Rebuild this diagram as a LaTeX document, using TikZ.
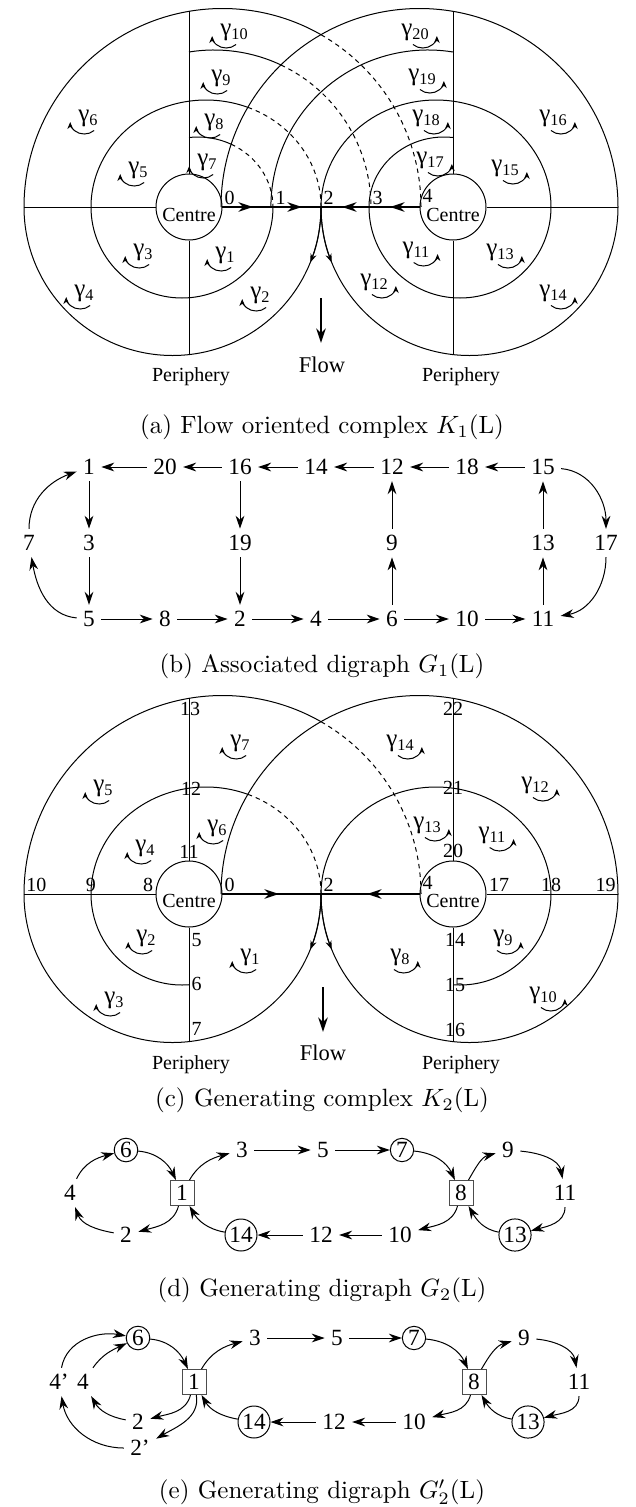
\documentclass[tikz,border=0pt]{standalone}
\usepackage{fontspec}
\usetikzlibrary{arrows.meta}
\newfontfamily\figfont{Liberation Serif}
\tikzset{
  num/.style={font=\figfont\fontsize{9.3}{10}\selectfont, inner sep=2.4pt},
  ptlab/.style={font=\figfont\fontsize{8}{9}\selectfont, inner sep=0.8pt},
  gam/.style={font=\figfont\fontsize{10}{11}\selectfont, inner sep=0pt},
  ctr/.style={circle, draw, minimum size=26.4pt, inner sep=0pt},
  ctrtext/.style={font=\figfont\fontsize{8}{9}\selectfont, inner sep=0pt},
  peri/.style={font=\figfont\fontsize{8}{9}\selectfont},
  flowtext/.style={font=\figfont\fontsize{9}{10}\selectfont},
  capt/.style={font=\normalsize},
  sqnode/.style={num, rectangle, draw=black!70, minimum width=9.6pt, minimum height=10pt, inner sep=1pt},
  rnode/.style={num, circle, draw, inner sep=0.6pt},
  arr/.style={-{Stealth[length=5.2pt,width=3.5pt]}},
  thickarr/.style={line width=0.9pt, -{Stealth[length=5.8pt,width=3.8pt]}},
  midarr/.style={-{Stealth[length=3.6pt,width=2.5pt]}},
  garr/.style={-{Stealth[length=2.8pt,width=2.3pt]}},
  hidden/.style={dash pattern=on 1.8pt off 1.6pt},
}
\newcommand{\gleft}[3]{%
  \node[gam] (#1) at (#2) {γ\raisebox{-1.8pt}{\fontsize{6.5}{7}\selectfont #3}};
  \draw[garr] ([shift={(16.2,-12.5)}]#1.west) arc[start angle=-45, end angle=-180, x radius=14, y radius=12];}
\newcommand{\gright}[3]{%
  \node[gam] (#1) at (#2) {γ\raisebox{-1.8pt}{\fontsize{6.5}{7}\selectfont #3}};
  \draw[garr] ([shift={(-16.2,-12.5)}]#1.east) arc[start angle=-135, end angle=0, x radius=14, y radius=12];}

\begin{document}
\begin{tikzpicture}[x=0.4pt,y=0.4pt]
\path[use as bounding box] (0,0) rectangle (635,-1507);
% (a) flow oriented complex
\node[ctr] (ca1) at (189,-207) {};
\node[ctr] (ca2) at (453,-207) {};
\node[ctrtext] (ta1) at (189,-215) {Centre};
\node[ctrtext] (ta2) at (453,-215) {Centre};
\draw (24,-207) -- (ca1.west);
\draw (ca2.east) -- (618,-207);
\draw (189,-11.3) -- (ca1.north);
\draw (ca1.south) -- (189,-354.6);
\draw (453,-11.3) -- (ca2.north);
\draw (ca2.south) -- (453,-354.6);
\draw (24,-207) arc[start angle=180, end angle=60.25, radius=198.5];
\draw[hidden] (321,-34.7) arc[start angle=60.25, end angle=0, radius=198.5];
\draw (189,-52) arc[start angle=99.2, end angle=64.8, radius=157];
\draw[hidden] (280.8,-64.9) arc[start angle=64.8, end angle=0, radius=157];
\draw (91,-207) arc[start angle=180, end angle=68.7, x radius=115, y radius=107];
\draw[hidden] (247.8,-107.3) arc[start angle=68.7, end angle=0, x radius=115, y radius=107];
\draw (189,-137.5) arc[start angle=96.9, end angle=63.8, x radius=75, y radius=70];
\draw[hidden] (231.1,-144.2) arc[start angle=63.8, end angle=0, x radius=75, y radius=70];
\draw (91,-207) arc[start angle=180, end angle=360, radius=91];
\draw (24,-207) arc[start angle=180, end angle=360, radius=148.5];
\draw[midarr] (321,-207) arc[start angle=0, end angle=-22, radius=148.5];
\draw (618,-207) arc[start angle=0, end angle=180, radius=198.5];
\draw (453,-52) arc[start angle=80.8, end angle=180, radius=157];
\draw (551,-207) arc[start angle=0, end angle=180, x radius=115, y radius=107];
\draw (453,-137.5) arc[start angle=83.1, end angle=180, x radius=75, y radius=70];
\draw (551,-207) arc[start angle=0, end angle=-180, radius=91];
\draw (618,-207) arc[start angle=0, end angle=-180, radius=148.5];
\draw[midarr] (321,-207) arc[start angle=180, end angle=202, radius=148.5];
\coordinate (p0) at (222,-207);
\coordinate (p1) at (273,-207);
\coordinate (p2) at (321,-207);
\coordinate (p3) at (370,-207);
\coordinate (p4) at (420,-207);
\draw[line width=0.9pt] (p0) -- (p4);
\draw[thickarr] (p0) -- (253,-207);
\draw[thickarr] (p1) -- (302,-207);
\draw[thickarr] (p4) -- (390,-207);
\draw[thickarr] (p3) -- (342,-207);
\node[ptlab, anchor=south west] (l0) at (p0) {0};
\node[ptlab, anchor=south west] (l1) at (p1) {1};
\node[ptlab, anchor=south west] (l2) at (p2) {2};
\node[ptlab, anchor=south west] (l3) at (p3) {3};
\node[ptlab, anchor=south west] (l4) at ([yshift=1pt]p4) {4};
\gleft{ga1}{225,-255}{1}
\gleft{ga2}{260,-295}{2}
\gleft{ga3}{143,-252}{3}
\gleft{ga4}{84,-293}{4}
\gleft{ga5}{138,-170}{5}
\gleft{ga6}{88,-118}{6}
\gleft{ga7}{207,-162}{7}
\gleft{ga8}{214,-122}{8}
\gleft{ga9}{221,-78}{9}
\gleft{ga10}{234,-32}{10}
\gright{ga11}{416,-250}{11}
\gright{ga12}{374,-282}{12}
\gright{ga13}{500,-252}{13}
\gright{ga14}{553,-293}{14}
\gright{ga15}{505,-168}{15}
\gright{ga16}{553,-118}{16}
\gright{ga17}{430,-160}{17}
\gright{ga18}{426,-118}{18}
\gright{ga19}{422,-77}{19}
\gright{ga20}{415,-32}{20}
\coordinate (fa) at (321,-298);
\draw[thickarr] (fa) -- (321,-343);
\node[flowtext] (fla) at (322,-365) {Flow};
\node[peri] (pa1) at (191,-377) {Periphery};
\node[peri] (pa2) at (461,-377) {Periphery};
\node[capt] (capa) at (322,-427) {(a) Flow oriented complex $K_1$(L)};
% (b) associated digraph
\node[num] (b1) at (89,-467) {1};
\node[num] (b20) at (165,-467) {20};
\node[num] (b16) at (240,-467) {16};
\node[num] (b14) at (316,-467) {14};
\node[num] (b12) at (392,-467) {12};
\node[num] (b18) at (467,-467) {18};
\node[num] (b15) at (543,-467) {15};
\node[num] (b7) at (29,-543) {7};
\node[num] (b3) at (89,-543) {3};
\node[num] (b19) at (240,-543) {19};
\node[num] (b9) at (392,-543) {9};
\node[num] (b13) at (543,-543) {13};
\node[num] (b17) at (606,-543) {17};
\node[num] (b5) at (89,-619) {5};
\node[num] (b8) at (165,-619) {8};
\node[num] (b2) at (240,-619) {2};
\node[num] (b4) at (316,-619) {4};
\node[num] (b6) at (392,-619) {6};
\node[num] (b10) at (467,-619) {10};
\node[num] (b11) at (543,-619) {11};
\draw[arr] (b20) -- (b1);
\draw[arr] (b16) -- (b20);
\draw[arr] (b14) -- (b16);
\draw[arr] (b12) -- (b14);
\draw[arr] (b18) -- (b12);
\draw[arr] (b15) -- (b18);
\draw[arr] (b1) -- (b3);
\draw[arr] (b3) -- (b5);
\draw[arr] (b16) -- (b19);
\draw[arr] (b19) -- (b2);
\draw[arr] (b6) -- (b9);
\draw[arr] (b9) -- (b12);
\draw[arr] (b11) -- (b13);
\draw[arr] (b13) -- (b15);
\draw[arr] (b5) -- (b8);
\draw[arr] (b8) -- (b2);
\draw[arr] (b2) -- (b4);
\draw[arr] (b4) -- (b6);
\draw[arr] (b6) -- (b10);
\draw[arr] (b10) -- (b11);
\draw[arr] (b5) to[out=175, in=-80] (b7);
\draw[arr] (b7) to[out=90, in=200] (b1);
\draw[arr] (b15) to[out=-5, in=90] (b17);
\draw[arr] (b17) to[out=-90, in=10] (b11);
\node[capt] (capb) at (322,-666) {(b) Associated digraph $G_1$(L)};
% (c) generating complex
\node[ctr] (cc1) at (189,-894) {};
\node[ctr] (cc2) at (453,-894) {};
\node[ctrtext] (tc1) at (189,-901) {Centre};
\node[ctrtext] (tc2) at (453,-901) {Centre};
\draw (24,-894) -- (cc1.west);
\draw (cc2.east) -- (618,-894);
\draw (189,-698.3) -- (cc1.north);
\draw (cc1.south) -- (189,-1041.6);
\draw (453,-698.3) -- (cc2.north);
\draw (cc2.south) -- (453,-1041.6);
\draw (24,-894) arc[start angle=180, end angle=60.25, radius=198.5];
\draw[hidden] (321,-721.7) arc[start angle=60.25, end angle=0, radius=198.5];
\draw (91,-894) arc[start angle=180, end angle=68.7, x radius=115, y radius=107];
\draw[hidden] (247.8,-794.3) arc[start angle=68.7, end angle=0, x radius=115, y radius=107];
\draw (91,-894) arc[start angle=180, end angle=274.4, radius=91];
\draw (24,-894) arc[start angle=180, end angle=360, radius=148.5];
\draw[midarr] (321,-894) arc[start angle=0, end angle=-22, radius=148.5];
\draw (618,-894) arc[start angle=0, end angle=180, radius=198.5];
\draw (551,-894) arc[start angle=0, end angle=180, x radius=115, y radius=107];
\draw (551,-894) arc[start angle=0, end angle=-94.4, radius=91];
\draw (618,-894) arc[start angle=0, end angle=-180, radius=148.5];
\draw[midarr] (321,-894) arc[start angle=180, end angle=202, radius=148.5];
\coordinate (q0) at (222,-894);
\coordinate (q2) at (321,-894);
\coordinate (q4) at (420,-894);
\draw[line width=0.9pt] (q0) -- (q4);
\draw[thickarr] (q0) -- (279,-894);
\draw[thickarr] (q4) -- (367,-894);
\node[ptlab, anchor=south west] (m0) at (q0) {0};
\node[ptlab, anchor=south west] (m2) at (q2) {2};
\node[ptlab, anchor=south west] (m4) at ([yshift=1pt]q4) {4};
\node[ptlab, anchor=south east] (m8) at (cc1.west) {8};
\node[ptlab, anchor=south] (m9) at (91,-894) {9};
\node[ptlab, anchor=south west] (m10) at (24,-894) {10};
\node[ptlab, anchor=south] (m11) at (cc1.north) {11};
\node[ptlab] (m12) at (191,-789) {12};
\node[ptlab, anchor=north] (m13) at (190,-700) {13};
\node[ptlab, anchor=west] (m5) at (189,-940) {5};
\node[ptlab, anchor=west] (m6) at (189,-984) {6};
\node[ptlab, anchor=west] (m7) at (189,-1029) {7};
\node[ptlab, anchor=south west] (m17) at (cc2.east) {17};
\node[ptlab, anchor=south] (m18) at (551,-894) {18};
\node[ptlab, anchor=south east] (m19) at (618,-894) {19};
\node[ptlab, anchor=south] (m20) at (cc2.north) {20};
\node[ptlab] (m21) at (453,-788) {21};
\node[ptlab, anchor=north] (m22) at (453,-700) {22};
\node[ptlab] (m14) at (455,-940) {14};
\node[ptlab] (m15) at (455,-985) {15};
\node[ptlab] (m16) at (455,-1030) {16};
\gleft{gc1}{250,-957}{1}
\gleft{gc2}{146,-938}{2}
\gleft{gc3}{114,-1000}{3}
\gleft{gc4}{145,-848}{4}
\gleft{gc5}{103,-788}{5}
\gleft{gc6}{217,-828}{6}
\gleft{gc7}{240,-743}{7}
\gright{gc8}{400,-957}{8}
\gright{gc9}{503,-938}{9}
\gright{gc10}{543,-995}{10}
\gright{gc11}{492,-835}{11}
\gright{gc12}{535,-785}{12}
\gright{gc13}{427,-825}{13}
\gright{gc14}{400,-743}{14}
\coordinate (fc) at (323,-987);
\draw[thickarr] (fc) -- (323,-1032);
\node[flowtext] (flc) at (323,-1053) {Flow};
\node[peri] (pc1) at (191,-1065) {Periphery};
\node[peri] (pc2) at (461,-1065) {Periphery};
\node[capt] (capc) at (322,-1100) {(c) Generating complex $K_2$(L)};
% (d) generating digraph
\node[num] (d4) at (70,-1193) {4};
\node[rnode] (d6) at (126,-1150) {6};
\node[sqnode] (d1) at (182,-1193) {1};
\node[num] (d3) at (242,-1150) {3};
\node[num] (d5) at (323,-1150) {5};
\node[rnode] (d7) at (402,-1150) {7};
\node[sqnode] (d8) at (461,-1193) {8};
\node[num] (d9) at (508,-1150) {9};
\node[num] (d11) at (565,-1193) {11};
\node[rnode] (d13) at (515,-1235) {13};
\node[num] (d10) at (400,-1235) {10};
\node[num] (d12) at (321,-1235) {12};
\node[rnode] (d14) at (241,-1235) {14};
\node[num] (d2) at (126,-1235) {2};
\draw[arr] (d4) to[out=65, in=195] (d6);
\draw[arr] (d6) to[out=-5, in=115] (d1);
\draw[arr] (d1) to[out=60, in=195] (d3);
\draw[arr] (d3) -- (d5);
\draw[arr] (d5) -- (d7);
\draw[arr] (d7) to[out=-5, in=115] (d8);
\draw[arr] (d8) to[out=60, in=195] (d9);
\draw[arr] (d9) to[out=-5, in=100] (d11);
\draw[arr] (d11) to[out=-90, in=15] (d13);
\draw[arr] (d13) to[out=170, in=-60] (d8);
\draw[arr] (d8) to[out=-105, in=15] (d10);
\draw[arr] (d10) -- (d12);
\draw[arr] (d12) -- (d14);
\draw[arr] (d14) to[out=170, in=-60] (d1);
\draw[arr] (d1) to[out=-105, in=15] (d2);
\draw[arr] (d2) to[out=170, in=-70] (d4);
\node[capt] (capd) at (322,-1290) {(d) Generating digraph $G_2$(L)};
% (e) generating digraph, split
\node[num] (e4p) at (59,-1382) {4’};
\node[num] (e4) at (83,-1382) {4};
\node[rnode] (e6) at (138,-1338) {6};
\node[sqnode] (e1) at (194,-1382) {1};
\node[num] (e3) at (255,-1338) {3};
\node[num] (e5) at (337,-1338) {5};
\node[rnode] (e7) at (414,-1338) {7};
\node[sqnode] (e8) at (474,-1382) {8};
\node[num] (e9) at (524,-1338) {9};
\node[num] (e11) at (579,-1382) {11};
\node[rnode] (e13) at (528,-1422) {13};
\node[num] (e10) at (414,-1422) {10};
\node[num] (e12) at (334,-1422) {12};
\node[rnode] (e14) at (254,-1422) {14};
\node[num] (e2) at (138,-1422) {2};
\node[num] (e2p) at (140,-1448) {2’};
\draw[arr] (e4p) to[out=80, in=170] (e6);
\draw[arr] (e4) to[out=55, in=205] (e6);
\draw[arr] (e6) to[out=-5, in=115] (e1);
\draw[arr] (e1) to[out=60, in=195] (e3);
\draw[arr] (e3) -- (e5);
\draw[arr] (e5) -- (e7);
\draw[arr] (e7) to[out=-5, in=115] (e8);
\draw[arr] (e8) to[out=60, in=195] (e9);
\draw[arr] (e9) to[out=-5, in=100] (e11);
\draw[arr] (e11) to[out=-90, in=15] (e13);
\draw[arr] (e13) to[out=170, in=-60] (e8);
\draw[arr] (e8) to[out=-105, in=15] (e10);
\draw[arr] (e10) -- (e12);
\draw[arr] (e12) -- (e14);
\draw[arr] (e14) to[out=170, in=-60] (e1);
\draw[arr] (e1) to[out=-105, in=15] (e2);
\draw[arr] (e1) to[out=-80, in=30] (e2p);
\draw[arr] (e2) to[out=170, in=-60] (e4);
\draw[arr] (e2p) to[out=180, in=-80] (e4p);
\node[capt] (cape) at (322,-1492) {(e) Generating digraph $G'_2$(L)};
\end{tikzpicture}
\end{document}
